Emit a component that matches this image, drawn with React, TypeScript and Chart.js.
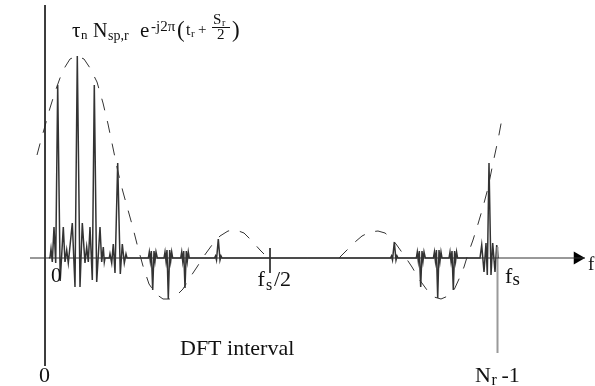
import React, { useEffect, useRef } from 'react';
import { Chart, registerables } from 'chart.js';

Chart.register(...registerables);

// Units: x = frequency bin (0 at DC, fs at ~450.5), y = amplitude (main peak = 202)
const X_MIN = -47;
const X_MAX = 548;
const Y_MIN = -128;
const Y_MAX = 258;
const FS_BIN = 450.5;
const HALF_FS_BIN = 223;

// Main lobe spikes with their ripples (around DC)
const mainCluster: [number, number][] = [
  [2, 0], [3, 0.5], [4, 9], [5.3, -4], [7, 31], [8.7, -5], [10.7, 173], [13.2, -23],
  [16.3, 31], [18, -4], [19.7, 8], [21.3, -5], [25.3, 35], [28, -29], [30.3, 202],
  [33, -29], [35.3, 35], [38, -5], [39.7, 11], [41.3, -4], [43, 31], [45.3, -22],
  [47.3, 173], [49.7, -24], [53, 31], [54.7, -4], [56.3, 11], [57.3, -4], [58, 0],
];
const fourthSpike: [number, number][] = [
  [62.3, 0], [63, 4], [64.7, -5], [66.3, 14], [68, -15], [70.7, 95], [73.3, -16],
  [75.3, 14], [77.3, -5], [79, 4], [80, 0],
];
const leftNegBursts: [number, number][] = [
  [101.3, 0], [102.3, 6], [103.3, -3], [104.3, 7], [105.7, -32], [107, 7], [108, -3], [109, 6], [110.3, 0],
  [117, 0], [118, 6], [119, -3], [120, 8], [121.3, -41], [122.7, 8], [123.7, -3], [124.7, 6], [125.7, 0],
  [133.7, 0], [134.7, 6], [135.7, -3], [136.7, 7], [138, -30], [139.3, 7], [140.3, -3], [141.3, 6], [142.3, 0],
];
const leftSmallBurst: [number, number][] = [
  [167.5, 0], [168.5, 2], [169.5, -2], [171.3, 19], [173, -2], [174, 2], [175, 0],
];
const rightSmallBurst: [number, number][] = [
  [343.5, 0], [344.5, 2], [345.5, -2], [347.3, 16], [349, -2], [350, 2], [351, 0],
];
const rightNegBursts: [number, number][] = [
  [369.3, 0], [370.3, 6], [371.3, -3], [372.3, 7], [373.7, -29], [375, 7], [376, -3], [377, 6], [378.3, 0],
  [386.4, 0], [387.4, 6], [388.4, -3], [389.4, 8], [390.7, -40], [392, 8], [393, -3], [394, 6], [395, 0],
  [402, 0], [403, 6], [404, -3], [405, 7], [406.3, -32], [407.6, 7], [408.6, -3], [409.6, 6], [410.6, 0],
];
const aliasSpike: [number, number][] = [
  [433, 0], [434.7, 13], [437, -14], [439, 15], [440.3, -17], [442, 95], [444, -17],
  [445.7, 15], [448, -14], [449.7, 13], [451.3, 0],
];

// Dashed sinc envelope (left part and its image near fs)
const envelopeLeft: [number, number][] = [
  [-10, 103], [-6, 118], [-2, 132], [3, 150], [8, 166], [13, 180], [18, 191], [23, 199],
  [30, 202], [37, 199], [43, 190], [50, 176], [56, 155], [61, 134], [66, 110], [71, 86],
  [76, 66], [81, 48], [86, 30], [91, 10], [96, -8], [102, -26], [109, -36], [116, -41],
  [123, -41], [130, -37], [136, -31], [142, -21], [150, -9], [157, 2], [165, 13],
  [173, 22], [181, 27], [189, 28], [197, 25], [205, 17], [213, 8], [217, 4],
];
const envelopeRight: [number, number][] = [
  [292, 0], [296, 4], [301, 9], [308, 16], [315, 22], [323, 26], [331, 27], [338, 25],
  [344, 20], [349, 14], [354, 7], [359, 0], [365, -9], [372, -21], [380, -32], [387, -39],
  [394, -41], [401, -38], [407, -32], [412, -21], [417, -9], [421, 4], [426, 18],
  [431, 34], [436, 51], [441, 70], [446, 95], [451, 118], [456, 145],
];

const freqAxis: [number, number][] = [[-17, 0], [538, 0]];
const arrowHead: [number, number][] = [[530.5, 0]];
const sampleAxis: [number, number][] = [[-2, 253], [-2, -108]];
const fsMarker: [number, number][] = [[FS_BIN, 11], [FS_BIN, -95]];
const halfFsTick: [number, number][] = [[HALF_FS_BIN, 10], [HALF_FS_BIN, -15]];

const toXY = (a: [number, number][]) => a.map(([x, y]) => ({ x, y }));

const SERIF = '"Liberation Serif", "DejaVu Serif", serif';

const labelsPlugin = {
  id: 'labels',
  afterDatasetsDraw(chart: any) {
    const ctx = chart.ctx as CanvasRenderingContext2D;
    const xs = chart.scales.x;
    const ys = chart.scales.y;
    const px = (v: number) => xs.getPixelForValue(v);
    const py = (v: number) => ys.getPixelForValue(v);
    const t = (s: string, x: number, y: number, size: number, color = '#111') => {
      ctx.font = `${size}px ${SERIF}`;
      ctx.fillStyle = color;
      ctx.textAlign = 'left';
      ctx.textBaseline = 'alphabetic';
      ctx.fillText(s, x, y);
    };
    ctx.save();
    const axisY = py(0);
    // frequency axis labels
    t('0', px(0) + 4, axisY + 24, 21);
    const hx = px(HALF_FS_BIN);
    t('f', hx - 12.5, axisY + 27.5, 22);
    t('s', hx - 4, axisY + 31.5, 16);
    t('/2', hx + 4, axisY + 27.5, 22);
    const fx = px(FS_BIN);
    t('f', fx + 7.5, axisY + 25, 22);
    t('s', fx + 15, axisY + 27, 19);
    t('f', 588, axisY + 12, 19);
    // sample index labels
    t('DFT interval', 180, 355, 22);
    t('0', px(-2) - 6, 382, 22);
    t('N', fx - 22.5, 382, 22);
    t('r', fx - 6, 385, 16);
    t('-1', fx + 4, 382, 22);
    // formula
    t('\u03C4', 72, 37, 21);
    t('n', 81, 39, 13);
    t('N', 93, 37, 20);
    t('sp,r', 108, 40, 14);
    t('e', 140, 37, 21);
    t('-j2\u03C0', 151, 31, 15);
    t('(', 177, 37, 23);
    t('t', 186, 35, 16);
    t('r', 191, 37, 11);
    t('+', 198, 34, 15);
    t('S', 213, 24, 15);
    t('r', 222, 26, 10);
    ctx.strokeStyle = '#111';
    ctx.lineWidth = 1;
    ctx.beginPath();
    ctx.moveTo(212, 27.5);
    ctx.lineTo(230, 27.5);
    ctx.stroke();
    t('2', 217, 38.5, 15);
    t(')', 232, 37, 23);
    ctx.restore();
  },
};

export default function App() {
  const ref = useRef<HTMLCanvasElement | null>(null);
  useEffect(() => {
    if (!ref.current) return;
    const signal = [
      ...mainCluster, ...fourthSpike, ...leftNegBursts, ...leftSmallBurst,
      ...rightSmallBurst, ...rightNegBursts, ...aliasSpike,
    ];
    const line = (data: [number, number][], color: string, width: number, extra: any = {}) => ({
      data: toXY(data),
      showLine: true,
      borderColor: color,
      backgroundColor: color,
      borderWidth: width,
      pointRadius: 0,
      tension: 0,
      fill: false,
      ...extra,
    });
    const chart = new Chart(ref.current, {
      type: 'scatter',
      data: {
        datasets: [
          line(freqAxis, '#333', 1),
          line(sampleAxis, '#222', 1),
          line(fsMarker, '#9a9a9a', 2),
          line(halfFsTick, '#333', 1),
          line(envelopeLeft, '#333', 1, { borderDash: [12, 11] }),
          line(envelopeRight, '#333', 1, { borderDash: [12, 11] }),
          line(signal, '#333', 1.5),
          {
            data: toXY(arrowHead),
            showLine: false,
            pointStyle: 'triangle',
            rotation: 90,
            pointRadius: 7.5,
            backgroundColor: '#000',
            borderColor: '#000',
            borderWidth: 0,
          },
        ],
      },
      options: {
        animation: false,
        responsive: false,
        maintainAspectRatio: false,
        devicePixelRatio: 1,
        layout: { padding: 0, autoPadding: false },
        events: [],
        plugins: { legend: { display: false }, tooltip: { enabled: false } },
        scales: {
          x: { type: 'linear', min: X_MIN, max: X_MAX, display: false },
          y: { type: 'linear', min: Y_MIN, max: Y_MAX, display: false },
        },
      },
      plugins: [labelsPlugin],
    } as any);
    return () => chart.destroy();
  }, []);
  return (
    <div style={{ position: 'fixed', left: 0, top: 0, width: 595, height: 386, background: '#fff' }}>
      <canvas ref={ref} width={595} height={386} style={{ display: 'block' }} />
    </div>
  );
}
